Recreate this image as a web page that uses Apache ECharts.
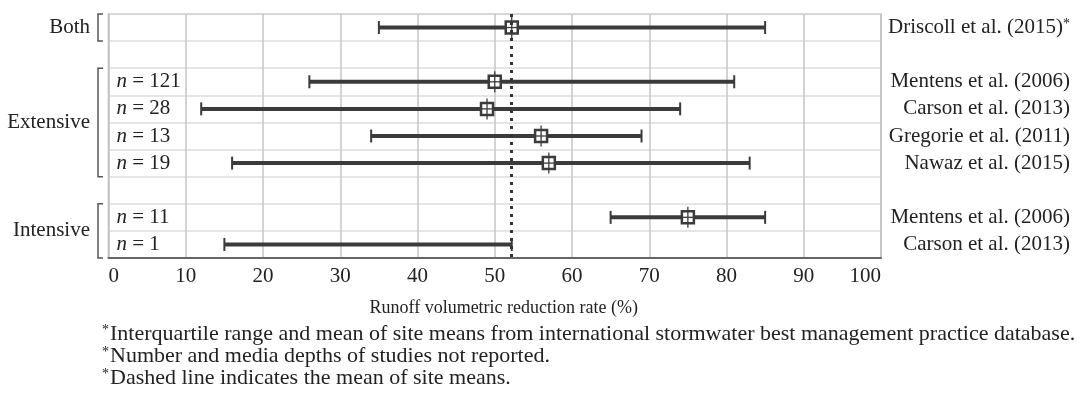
<!DOCTYPE html>
<html>
<head>
<meta charset="utf-8">
<script src="https://cdn.jsdelivr.net/npm/echarts@6/dist/echarts.min.js"></script>
<style>
  html, body { margin: 0; padding: 0; background: #fff; }
  #chart { width: 1089px; height: 402px; }
</style>
</head>
<body>
<div id="chart"></div>
<script>
// rows from top to bottom (empty rows are the gaps between groups)
var rowKeys = ['both', 'gap1', 'ext121', 'ext28', 'ext13', 'ext19', 'gap2', 'int11', 'int1'];
var sampleLabels = ['', '', '121', '28', '13', '19', '', '11', '1'];
var refLabels = ['Driscoll et al. (2015)', '', 'Mentens et al. (2006)', 'Carson et al. (2013)',
    'Gregorie et al. (2011)', 'Nawaz et al. (2015)', '', 'Mentens et al. (2006)', 'Carson et al. (2013)'];
var refStar = [true, false, false, false, false, false, false, false, false];

// interquartile range (low / high) and mean, %; null = not drawn
var lowValues  = [35, null, 26, 12, 34, 16, null, 65, 15];
var highValues = [85, null, 81, 74, 69, 83, null, 85, 52.2];
var meanValues = [52.2, null, 50, 49, 56, 57, null, 75, null];
var siteMean = 52.2;   // dotted line

// groups: [first row, last row, label]
var groups = [[0, 0, 'Both'], [2, 5, 'Extensive'], [7, 8, 'Intensive']];

var xTicks = [0, 100, 10]; // min, max, interval
var xTitle = 'Runoff volumetric reduction rate (%)';
var footnotes = [
    'Interquartile range and mean of site means from international stormwater best management practice database.',
    'Number and media depths of studies not reported.',
    'Dashed line indicates the mean of site means.'
];

var FONT = 'Liberation Serif';
var INK = '#222';
var BAR = '#3b3b3b';

var rangeData = [];
var meanData = [];
for (var i = 0; i < rowKeys.length; i++) {
    if (lowValues[i] != null) rangeData.push([i, lowValues[i], highValues[i]]);
    if (meanValues[i] != null) meanData.push([i, meanValues[i]]);
}

var myChart = echarts.init(document.getElementById('chart'));

var titles = [];
for (var k = 0; k < footnotes.length; k++) {
    titles.push({
        text: '{s|*}{t|' + footnotes[k] + '}',
        left: 97,
        top: 318 + k * 22,
        textStyle: {
            fontWeight: 'normal',
            rich: {
                s: { fontFamily: FONT, fontSize: 14, fontWeight: 'normal', color: INK, verticalAlign: 'top', padding: [0, 1, 0, 0] },
                t: { fontFamily: FONT, fontSize: 22, fontWeight: 'normal', color: INK }
            }
        }
    });
}

var option = {
    animation: false,
    backgroundColor: '#fff',
    title: titles,
    grid: {
        left: 108.5,
        right: 208,
        top: 14,
        bottom: 144,
        show: true,
        borderColor: '#b3b3b3',
        borderWidth: 1.5
    },
    xAxis: {
        type: 'value',
        min: xTicks[0],
        max: xTicks[1],
        interval: xTicks[2],
        name: xTitle,
        nameLocation: 'middle',
        nameGap: 41,
        nameTextStyle: { fontFamily: FONT, fontSize: 18, color: INK, padding: [0, 0, 0, 18] },
        axisLine: { show: true, lineStyle: { color: '#666', width: 2 } },
        axisTick: { show: false },
        axisLabel: {
            fontFamily: FONT, fontSize: 21, color: INK, margin: 8,
            alignMinLabel: 'left', alignMaxLabel: 'right'
        },
        splitLine: { show: true, lineStyle: { color: '#c4c4c4', width: 1.5 } }
    },
    yAxis: [{
        type: 'category',
        data: rowKeys,
        inverse: true,
        axisLine: { show: false },
        axisTick: { show: false },
        axisLabel: {
            inside: true,
            interval: 0,
            margin: 8,
            formatter: function (v, idx) {
                return sampleLabels[idx] ? '{i|n} = ' + sampleLabels[idx] : '';
            },
            fontFamily: FONT, fontSize: 21, color: INK,
            rich: { i: { fontFamily: FONT, fontSize: 21, fontStyle: 'italic', color: INK } }
        },
        splitLine: { show: true, interval: 0, lineStyle: { color: '#dcdcdc', width: 1.5 } }
    }, {
        type: 'category',
        data: rowKeys,
        inverse: true,
        position: 'right',
        axisLine: { show: false },
        axisTick: { show: false },
        axisLabel: {
            align: 'right',
            interval: 0,
            margin: 189,
            formatter: function (v, idx) {
                return refLabels[idx] + (refStar[idx] ? '{s|*}' : '');
            },
            fontFamily: FONT, fontSize: 21, color: INK,
            rich: { s: { fontFamily: FONT, fontSize: 14, color: INK, verticalAlign: 'top' } }
        },
        splitLine: { show: false }
    }],
    series: [{
        // group brackets on the left
        type: 'custom',
        silent: true,
        data: groups,
        encode: { y: [0, 1] },
        renderItem: function (params, api) {
            var a = api.coord([0, api.value(0)]);
            var b = api.coord([0, api.value(1)]);
            var band = api.size([0, 1])[1];
            var x = a[0] - 10.5;
            var y0 = a[1] - band / 2;
            var y1 = b[1] + band / 2;
            var ls = { stroke: '#555', lineWidth: 1.5, fill: null };
            return {
                type: 'group',
                children: [
                    { type: 'polyline', shape: { points: [[x + 5, y0], [x, y0], [x, y1], [x + 5, y1]] }, style: ls },
                    {
                        type: 'text',
                        style: {
                            text: groups[params.dataIndex][2],
                            x: x - 8, y: (y0 + y1) / 2,
                            align: 'right', verticalAlign: 'middle',
                            fontFamily: FONT, fontSize: 21, fill: INK
                        }
                    }
                ]
            };
        }
    }, {
        // interquartile ranges
        type: 'custom',
        silent: true,
        data: rangeData,
        encode: { x: [1, 2], y: 0 },
        renderItem: function (params, api) {
            var p1 = api.coord([api.value(1), api.value(0)]);
            var p2 = api.coord([api.value(2), api.value(0)]);
            var st = { stroke: BAR, lineWidth: 4 };
            var cap = { stroke: BAR, lineWidth: 2 };
            return {
                type: 'group',
                children: [
                    { type: 'line', shape: { x1: p1[0], y1: p1[1], x2: p2[0], y2: p2[1] }, style: st },
                    { type: 'line', shape: { x1: p1[0], y1: p1[1] - 6.5, x2: p1[0], y2: p1[1] + 6.5 }, style: cap },
                    { type: 'line', shape: { x1: p2[0], y1: p2[1] - 6.5, x2: p2[0], y2: p2[1] + 6.5 }, style: cap }
                ]
            };
        }
    }, {
        // means (square markers) + mean of site means (dotted line)
        type: 'custom',
        silent: true,
        z: 3,
        data: meanData,
        encode: { x: 1, y: 0 },
        renderItem: function (params, api) {
            var p = api.coord([api.value(1), api.value(0)]);
            var h = 6;
            return {
                type: 'group',
                children: [
                    { type: 'rect', shape: { x: p[0] - h, y: p[1] - h, width: 2 * h, height: 2 * h },
                      style: { fill: '#fff', stroke: BAR, lineWidth: 2.5 } },
                    { type: 'line', shape: { x1: p[0], y1: p[1] - 10.5, x2: p[0], y2: p[1] + 10.5 },
                      style: { stroke: BAR, lineWidth: 1.3 } },
                    { type: 'line', shape: { x1: p[0] - h, y1: p[1], x2: p[0] + h, y2: p[1] },
                      style: { stroke: BAR, lineWidth: 1.3 } }
                ]
            };
        },
        markLine: {
            silent: true,
            symbol: 'none',
            label: { show: false },
            lineStyle: { type: [3, 5], width: 3, color: '#333', cap: 'butt' },
            data: [{ xAxis: siteMean }]
        }
    }]
};

myChart.setOption(option);
window.addEventListener('resize', function () {
    myChart.resize();
});
</script>
</body>
</html>
